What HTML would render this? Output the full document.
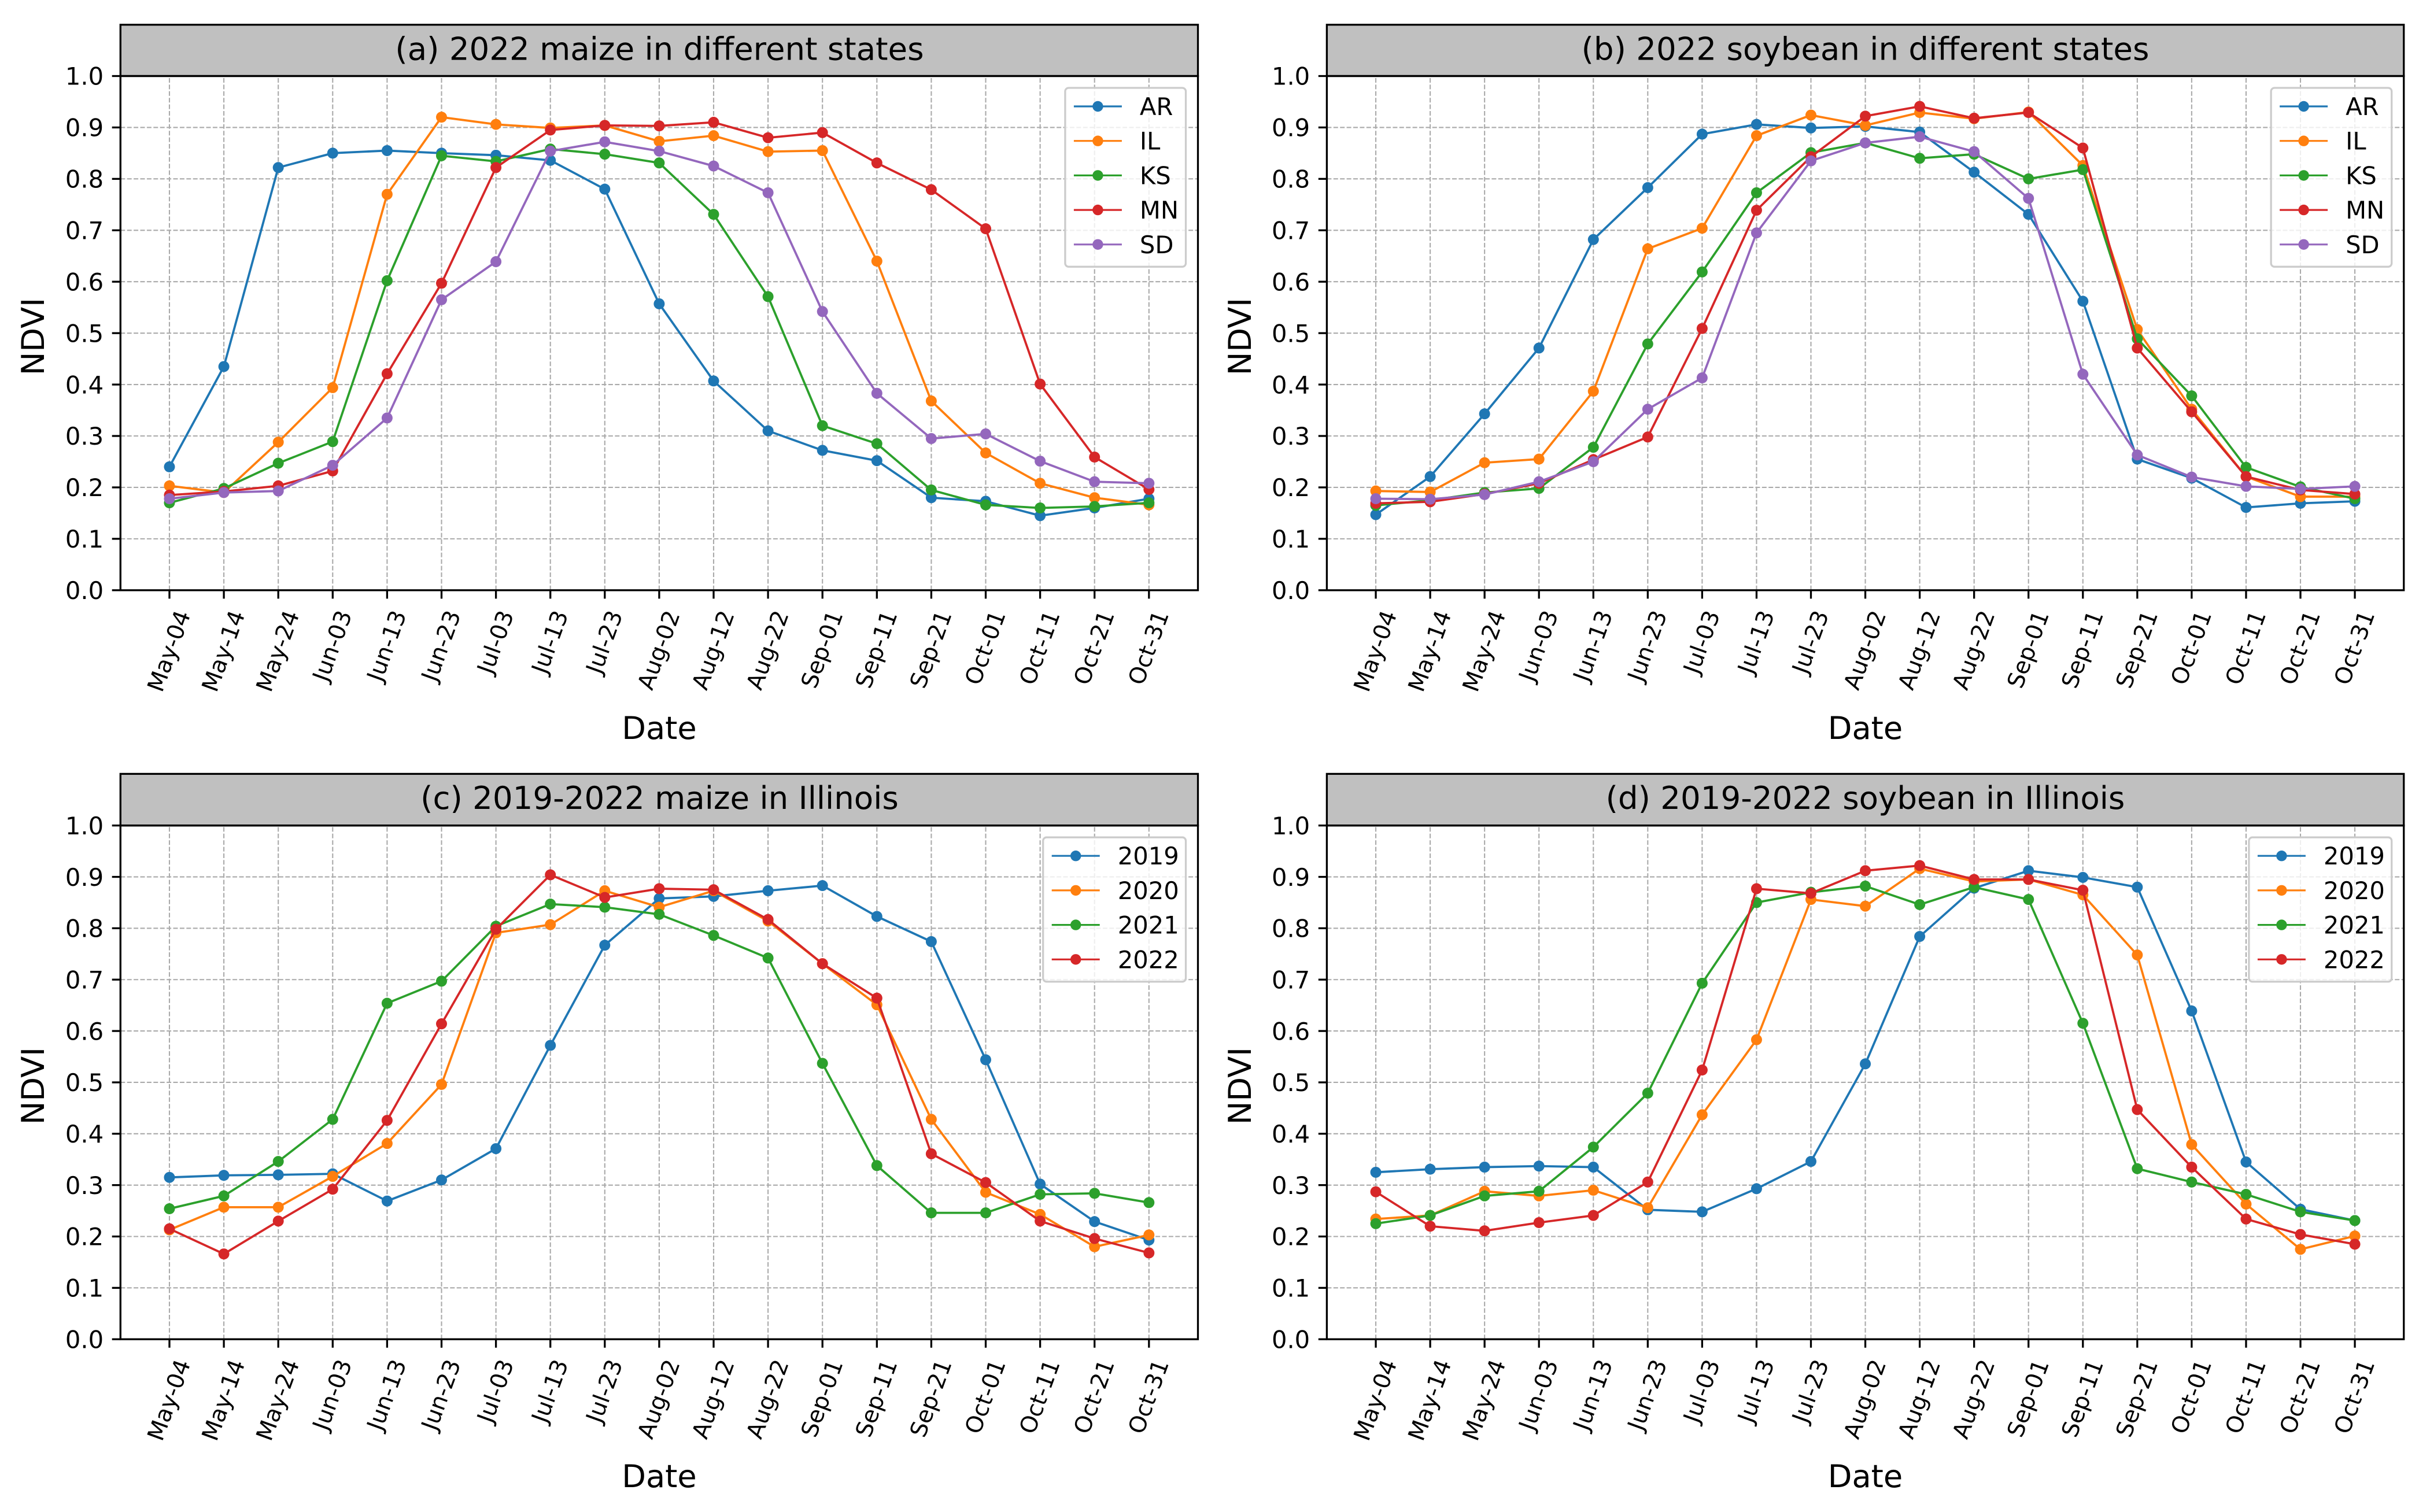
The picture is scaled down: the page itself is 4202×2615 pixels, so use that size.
<!DOCTYPE html>
<html lang="en">
<head>
<meta charset="utf-8">
<title>NDVI time series for maize and soybean</title>
<style>
html,body{margin:0;padding:0;background:#fff;}
svg{display:block;font-family:"DejaVu Sans","Liberation Sans",sans-serif;}
.title{font-size:54.6px;text-anchor:middle;fill:#000;}
.axis-label{font-size:54.17px;text-anchor:middle;fill:#000;}
.tick-label{font-size:41.67px;fill:#000;}
.x-tick-label{font-size:39.6px;fill:#000;}
.legend-label{font-size:41.67px;fill:#000;}
</style>
</head>
<body>
<svg id="figure" xmlns="http://www.w3.org/2000/svg" width="4202" height="2615" viewBox="0 0 4202 2615">
  <rect x="0" y="0" width="4202" height="2615" fill="#fff"/>

  <g id="panel-a">
    <rect x="208.3" y="42.8" width="1863.2" height="88.7" fill="#c0c0c0" stroke="#000" stroke-width="3.3"/>
    <text class="title" x="1140.5" y="103.5">(a) 2022 maize in different states</text>
    <text class="axis-label" transform="translate(76,582) rotate(-90)">NDVI</text>
    <text class="axis-label" x="1140" y="1278">Date</text>
  </g>

  <g id="panel-b">
    <rect x="2294.4" y="42.8" width="1862.3" height="88.7" fill="#c0c0c0" stroke="#000" stroke-width="3.3"/>
    <text class="title" x="3225.5" y="103.5">(b) 2022 soybean in different states</text>
    <text class="axis-label" transform="translate(2163,582) rotate(-90)">NDVI</text>
    <text class="axis-label" x="3225.5" y="1278">Date</text>
  </g>

  <g id="panel-c">
    <rect x="208.3" y="1338.4" width="1863.2" height="89.3" fill="#c0c0c0" stroke="#000" stroke-width="3.3"/>
    <text class="title" x="1140.5" y="1399">(c) 2019-2022 maize in Illinois</text>
    <text class="axis-label" transform="translate(76,1878) rotate(-90)">NDVI</text>
    <text class="axis-label" x="1140" y="2572">Date</text>
  </g>

  <g id="panel-d">
    <rect x="2294.4" y="1338.4" width="1862.3" height="89.3" fill="#c0c0c0" stroke="#000" stroke-width="3.3"/>
    <text class="title" x="3225.5" y="1399">(d) 2019-2022 soybean in Illinois</text>
    <text class="axis-label" transform="translate(2163,1878) rotate(-90)">NDVI</text>
    <text class="axis-label" x="3225.5" y="2572">Date</text>
  </g>
</svg>

<script>
// ---- categories and tick labels ----
const dateCategories = ['May-04','May-14','May-24','Jun-03','Jun-13','Jun-23','Jul-03','Jul-13','Jul-23','Aug-02','Aug-12','Aug-22','Sep-01','Sep-11','Sep-21','Oct-01','Oct-11','Oct-21','Oct-31'];
const yTickLabels = ['0.0','0.1','0.2','0.3','0.4','0.5','0.6','0.7','0.8','0.9','1.0'];
const stateNames = ['AR','IL','KS','MN','SD'];
const yearNames = ['2019','2020','2021','2022'];

// ---- (a) 2022 maize by state ----
const maizeAR = [.240,.435,.822,.850,.855,.850,.846,.836,.780,.557,.407,.310,.272,.252,.180,.173,.145,.160,.178];
const maizeIL = [.203,.190,.288,.394,.770,.920,.906,.899,.904,.873,.884,.853,.855,.640,.368,.267,.208,.180,.166];
const maizeKS = [.170,.198,.247,.289,.602,.845,.834,.858,.848,.831,.731,.571,.320,.285,.195,.166,.160,.163,.170];
const maizeMN = [.185,.192,.203,.232,.421,.597,.822,.895,.904,.903,.910,.880,.890,.831,.779,.703,.401,.259,.196];
const maizeSD = [.178,.190,.193,.243,.335,.565,.639,.854,.872,.854,.825,.773,.542,.383,.295,.304,.251,.211,.208];

// ---- (b) 2022 soybean by state ----
const soyAR = [.147,.221,.343,.471,.682,.783,.887,.906,.899,.902,.891,.813,.731,.562,.255,.218,.161,.169,.173];
const soyIL = [.193,.191,.248,.255,.387,.664,.704,.884,.924,.904,.929,.917,.930,.826,.507,.352,.221,.182,.182];
const soyKS = [.165,.175,.190,.198,.278,.479,.619,.773,.851,.870,.840,.848,.800,.818,.489,.378,.239,.201,.178];
const soyMN = [.169,.172,.187,.208,.254,.298,.509,.739,.843,.922,.941,.918,.929,.860,.471,.347,.221,.195,.187];
const soySD = [.178,.177,.186,.211,.250,.352,.413,.695,.835,.870,.882,.853,.762,.420,.263,.220,.202,.197,.202];

// ---- (c) maize in Illinois by year ----
const maize2019 = [.315,.319,.320,.322,.269,.310,.371,.572,.767,.858,.862,.873,.883,.823,.774,.544,.302,.229,.193];
const maize2020 = [.213,.257,.257,.317,.381,.496,.791,.807,.873,.841,.873,.814,.731,.651,.428,.286,.243,.180,.203];
const maize2021 = [.254,.279,.346,.428,.654,.697,.804,.847,.841,.827,.786,.742,.537,.338,.246,.246,.282,.284,.266];
const maize2022 = [.215,.166,.230,.292,.426,.614,.798,.904,.860,.877,.875,.817,.731,.664,.361,.305,.230,.196,.168];

// ---- (d) soybean in Illinois by year ----
const soy2019 = [.325,.331,.335,.337,.335,.252,.248,.293,.346,.536,.784,.878,.912,.899,.880,.639,.345,.253,.231];
const soy2020 = [.234,.241,.288,.279,.290,.256,.437,.583,.856,.843,.916,.891,.895,.865,.748,.379,.263,.175,.201];
const soy2021 = [.225,.241,.279,.288,.374,.479,.693,.850,.870,.882,.846,.880,.856,.615,.332,.306,.282,.248,.231];
const soy2022 = [.287,.220,.211,.227,.241,.306,.524,.877,.868,.912,.922,.895,.895,.874,.447,.335,.234,.204,.185];

// ---- styling (not data) ----
const palette = ['#1f77b4','#ff7f0e','#2ca02c','#d62728','#9467bd'];
const SVG_NS = 'http://www.w3.org/2000/svg';
const TICK_LEN = 14.6, TICK_PAD = 14.6, LINE_W = 3.8, MARKER_R = 9.5, SPINE_W = 3.3;

const panelLayouts = [
  {key:'a', left:208.3,  right:2071.5, top:131.5,  bottom:1020.8, names:stateNames, series:[maizeAR,maizeIL,maizeKS,maizeMN,maizeSD], legendW:208.6},
  {key:'b', left:2294.4, right:4156.7, top:131.5,  bottom:1020.8, names:stateNames, series:[soyAR,soyIL,soyKS,soyMN,soySD], legendW:208.6},
  {key:'c', left:208.3,  right:2071.5, top:1427.7, bottom:2316.2, names:yearNames,  series:[maize2019,maize2020,maize2021,maize2022], legendW:246.8},
  {key:'d', left:2294.4, right:4156.7, top:1427.7, bottom:2316.2, names:yearNames,  series:[soy2019,soy2020,soy2021,soy2022], legendW:246.8}
];

function make(tag, attrs, parent) {
  const el = document.createElementNS(SVG_NS, tag);
  for (const k in attrs) el.setAttribute(k, attrs[k]);
  parent.appendChild(el);
  return el;
}

function drawPanel(p) {
  const root = document.getElementById('panel-' + p.key);
  const n = dateCategories.length;
  const span = p.right - p.left;
  // matplotlib default 5% data margins on each side
  const xScale = i => p.left + span * (0.05 + i / (n - 1)) / 1.1;
  const yScale = v => p.bottom - (p.bottom - p.top) * v;

  // grid
  const grid = make('g', {fill:'none', stroke:'#aaaaaa', 'stroke-width':2.1, 'stroke-dasharray':'8 3.4'}, root);
  
  
  dateCategories.forEach((d, i) => {
    const gl = make('line', {x1:xScale(i), x2:xScale(i), y1:p.bottom, y2:p.top}, grid);
    
    
  });
  yTickLabels.forEach(lab => {
    const y = yScale(parseFloat(lab));
    const gl = make('line', {x1:p.left, x2:p.right, y1:y, y2:y}, grid);
    
    
  });

  // y ticks
  yTickLabels.forEach(lab => {
    const y = yScale(parseFloat(lab));
    const t = make('line', {x1:p.left - TICK_LEN, x2:p.left, y1:y, y2:y, stroke:'#000', 'stroke-width':SPINE_W}, root);
    
    
    const tl = make('text', {x:p.left - TICK_LEN - TICK_PAD, y:y + 15.2, 'text-anchor':'end', class:'tick-label'}, root);
    
    
    tl.textContent = lab;
  });

  // x ticks
  const sin70 = Math.sin(70 * Math.PI / 180), cos70 = Math.cos(70 * Math.PI / 180);
  dateCategories.forEach((d, i) => {
    const x = xScale(i);
    const t = make('line', {x1:x, x2:x, y1:p.bottom, y2:p.bottom + TICK_LEN, stroke:'#000', 'stroke-width':SPINE_W}, root);
    
    
    const tl = make('text', {'text-anchor':'middle', class:'x-tick-label'}, root);
    
    
    tl.textContent = d;
    const w = tl.getComputedTextLength();
    const boxH = w * sin70 + 39.6 * cos70;
    const cy = p.bottom + TICK_LEN + TICK_PAD + 1 + boxH / 2;
    tl.setAttribute('transform', 'translate(' + x + ',' + cy + ') rotate(-70)');
    tl.setAttribute('y', 12.8);
  });

  // series
  p.series.forEach((vals, s) => {
    const color = palette[s];
    const g = make('g', {}, root);
    
    
    const pts = vals.map((v, i) => xScale(i) + ',' + yScale(v)).join(' ');
    const line = make('polyline', {points:pts, fill:'none', stroke:color, 'stroke-width':LINE_W, 'stroke-linejoin':'round'}, g);
    
    
    vals.forEach((v, i) => {
      const c = make('circle', {cx:xScale(i), cy:yScale(v), r:MARKER_R, fill:color}, g);
      
      
    });
  });

  // frame
  const frame = make('rect', {x:p.left, y:p.top, width:span, height:p.bottom - p.top, fill:'none', stroke:'#000', 'stroke-width':SPINE_W}, root);
  
  

  // legend
  const rowH = 59.7;
  const boxRight = p.right - 21;
  const boxLeft = boxRight - p.legendW;
  const boxTop = p.top + 20.5;
  const boxH = p.names.length * rowH + 10.8;
  const legend = make('g', {}, root);
  
  
  const box = make('rect', {x:boxLeft, y:boxTop, width:p.legendW, height:boxH, rx:6, ry:6, fill:'#fff', 'fill-opacity':0.8, stroke:'#cccccc', 'stroke-width':3.3}, legend);
  
  
  p.names.forEach((name, s) => {
    const y = boxTop + 32 + s * rowH;
    const h = make('line', {x1:boxLeft + 15, x2:boxLeft + 98, y1:y, y2:y, stroke:palette[s], 'stroke-width':3.2}, legend);
    
    
    const m = make('circle', {cx:boxLeft + 56.5, cy:y, r:9.2, fill:palette[s]}, legend);
    
    
    const t = make('text', {x:boxLeft + 129, y:y + 15, class:'legend-label'}, legend);
    
    
    t.textContent = name;
  });
}

panelLayouts.forEach(drawPanel);
</script>
</body>
</html>
